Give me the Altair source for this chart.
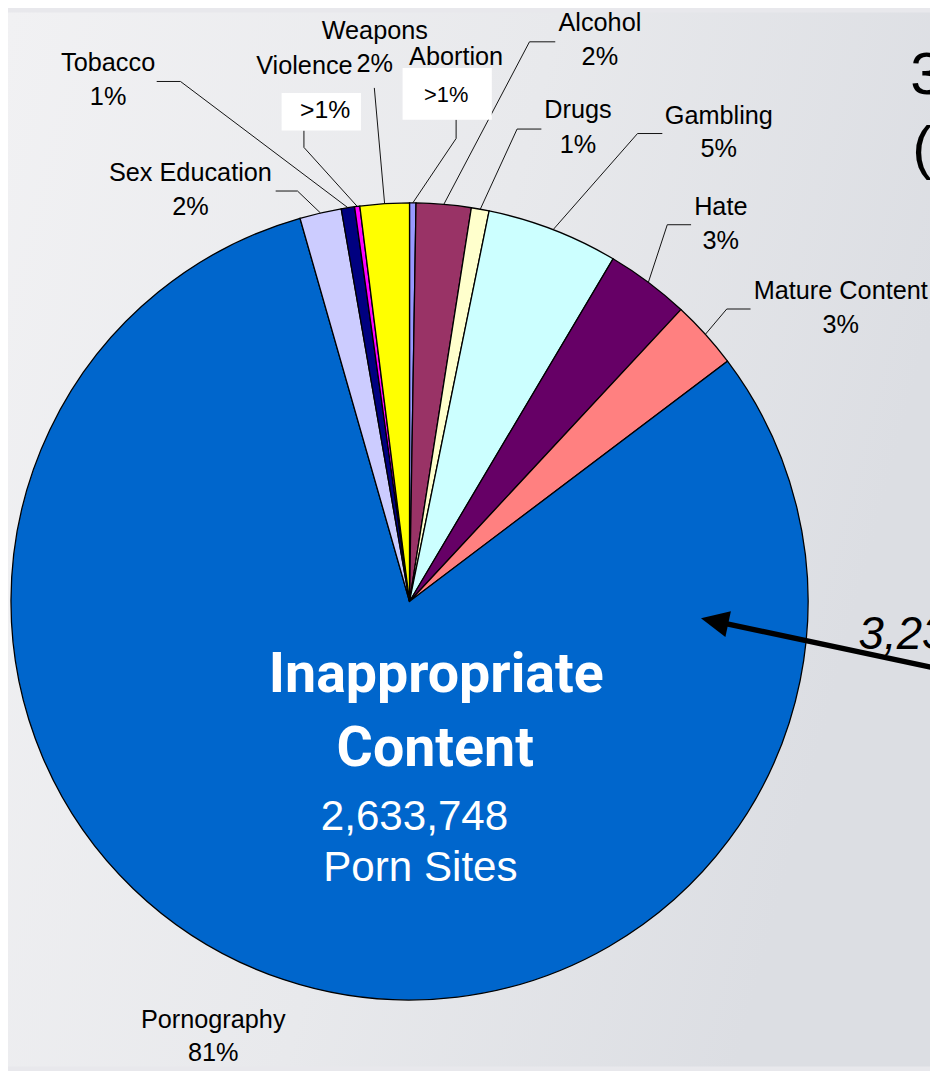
import math
import altair as alt
import pandas as pd

# ---------------- data ----------------
categories = ["Abortion", "Alcohol", "Drugs", "Gambling", "Hate", "Mature Content",
              "Pornography", "Sex Education", "Tobacco", "Violence", "Weapons"]
shares = [0.26, 2.22, 0.72, 5.33, 3.39, 2.78, 80.86, 1.69, 0.54, 0.21, 1.99]
pct_labels = [">1%", "2%", "1%", "5%", "3%", "3%", "81%", "2%", "1%", ">1%", "2%"]
colors = ["#9999FF", "#993366", "#FFFFCC", "#CCFFFF", "#660066", "#FF8080",
          "#0066CC", "#CCCCFF", "#000080", "#FF00FF", "#FFFF00"]

center_title = ["Inappropriate", "Content"]
center_sub = ["2,633,748", "Porn Sites"]
side_texts = ["3", "(", "3,23"]

# ---------------- layout (page pixels) ----------------
W, H = 930, 1063
OFF = 8
CX, CY, R = 413 - OFF, 602 - OFF, 402

# name label centre (x, y), percent line y (None -> boxed/hidden)
label_pos = {
    "Tobacco": (109, 59, 93),
    "Sex Education": (192, 170, 204),
    "Violence": (307, 62, None),
    "Weapons": (378, 27, 60),
    "Abortion": (460, 53, None),
    "Alcohol": (605, 19, 53),
    "Drugs": (583, 106, 142),
    "Gambling": (725, 112, 146),
    "Hate": (727, 204, 238),
    "Mature Content": (848, 289, 323),
    "Pornography": (215, 1024, 1058),
}
# leader line: start point and elbow point (page px)
leader_pts = {
    "Tobacco": ((158, 77.5), (182, 77.5)),
    "Sex Education": ((278, 188), (300, 188)),
    "Violence": ((306.5, 127), (306.5, 144)),
    "Weapons": ((377.5, 84), (377.5, 84)),
    "Abortion": ((460, 116), (460, 135)),
    "Alcohol": ((560, 37.5), (534, 37.5)),
    "Drugs": ((546, 125.5), (521.5, 125.5)),
    "Gambling": ((668, 130), (643, 130)),
    "Hate": ((697, 222), (673, 222)),
    "Mature Content": ((757, 307), (733, 307)),
}
# white boxes with ">1%" text
boxes = {
    "Violence": ((284, 89, 364, 127), (328, 106), 25),
    "Abortion": ((406, 64, 496, 116), (450, 91.5), 22),
}

FONT = "Liberation Sans, Arial, sans-serif"
BOLDFONT = "Roboto, Liberation Sans, sans-serif"

xs = alt.Scale(domain=[0, W], range=[0, W], nice=False, zero=False)
ys = alt.Scale(domain=[0, H], range=[0, H], nice=False, zero=False)


def X(f="x"):
    return alt.X(f + ":Q", scale=xs, axis=None)


def Y(f="y"):
    return alt.Y(f + ":Q", scale=ys, axis=None)


# ---------------- background ----------------
bg = alt.Chart(pd.DataFrame({"a": [0]})).mark_rect(
    color=alt.LinearGradient(
        gradient="linear",
        stops=[alt.GradientStop(color="#f1f1f3", offset=0),
               alt.GradientStop(color="#e8e9ec", offset=0.55),
               alt.GradientStop(color="#dcdee3", offset=1)],
        x1=0, x2=1, y1=0, y2=0.3)
).encode(x=alt.value(0), x2=alt.value(W), y=alt.value(0), y2=alt.value(H))

# ---------------- pie ----------------
pie_df = pd.DataFrame({"category": categories, "share": shares,
                       "idx": list(range(len(categories)))})
pie = alt.Chart(pie_df).mark_arc(outerRadius=R, stroke="black", strokeWidth=1.3).encode(
    theta=alt.Theta("share:Q", stack=True, scale=alt.Scale(range=[0, 2 * math.pi])),
    color=alt.Color("category:N", scale=alt.Scale(domain=categories, range=colors), legend=None),
    order=alt.Order("idx:Q"),
    x=alt.value(CX), y=alt.value(CY),
)

# ---------------- leader lines (end at slice mid-angle on the rim) ----------------
total = sum(shares)
cum = 0.0
mid_angle = {}
for c, s in zip(categories, shares):
    mid_angle[c] = 2 * math.pi * (cum + s / 2) / total
    cum += s

segs = []
for c, (p0, p1) in leader_pts.items():
    a = mid_angle[c]
    ex, ey = CX + R * math.sin(a), CY - R * math.cos(a)
    x0, y0 = p0[0] - OFF, p0[1] - OFF
    x1, y1 = p1[0] - OFF, p1[1] - OFF
    if (x0, y0) != (x1, y1):
        segs.append({"x": x0, "y": y0, "x2": x1, "y2": y1})
    segs.append({"x": x1, "y": y1, "x2": ex, "y2": ey})
leaders = alt.Chart(pd.DataFrame(segs)).mark_rule(color="#111111", strokeWidth=1).encode(
    x=X(), y=Y(), x2="x2:Q", y2="y2:Q")

# ---------------- labels ----------------
rows = []
for c, p in zip(categories, pct_labels):
    lx, ly, py = label_pos[c]
    rows.append({"x": lx - OFF, "y": ly - OFF, "t": c})
    if py is not None:
        rows.append({"x": lx - OFF, "y": py - OFF, "t": p})
labels = alt.Chart(pd.DataFrame(rows)).mark_text(
    font=FONT, fontSize=25.5, color="black", align="center", baseline="middle"
).encode(x=X(), y=Y(), text="t:N")

box_rows = []
box_text = []
for c, ((bx0, by0, bx1, by1), (tx, ty), fs) in boxes.items():
    box_rows.append({"x": bx0 - OFF, "y": by0 - OFF, "x2": bx1 - OFF, "y2": by1 - OFF})
    box_text.append({"x": tx - OFF, "y": ty - OFF, "t": pct_labels[categories.index(c)], "fs": fs})
wboxes = alt.Chart(pd.DataFrame(box_rows)).mark_rect(color="white").encode(
    x=X(), y=Y(), x2="x2:Q", y2="y2:Q")
wtext = alt.Chart(pd.DataFrame(box_text)).mark_text(
    font=FONT, color="black", align="center", baseline="middle"
).encode(x=X(), y=Y(), text="t:N", size=alt.Size("fs:Q", scale=None, legend=None))

# ---------------- centre annotation ----------------
ct_df = pd.DataFrame({"x": [440 - OFF, 439 - OFF], "y": [693 - OFF, 768 - OFF], "t": center_title})
ctitle = alt.Chart(ct_df).mark_text(
    font=BOLDFONT, fontWeight="bold", fontSize=56, color="white",
    align="center", baseline="alphabetic"
).encode(x=X(), y=Y(), text="t:N")
cs_df = pd.DataFrame({"x": [418 - OFF, 424 - OFF], "y": [833 - OFF, 884 - OFF], "t": center_sub})
csub = alt.Chart(cs_df).mark_text(
    font=FONT, fontSize=42.5, color="white", align="center", baseline="alphabetic"
).encode(x=X(), y=Y(), text="t:N")

# ---------------- clipped slide text on the right ----------------
side_df = pd.DataFrame({"x": [918 - OFF, 920 - OFF], "y": [90 - OFF, 165 - OFF], "t": side_texts[:2]})
side = alt.Chart(side_df).mark_text(
    font=FONT, fontSize=60, color="black", align="left", baseline="alphabetic"
).encode(x=X(), y=Y(), text="t:N")
side2 = alt.Chart(pd.DataFrame({"x": [866 - OFF], "y": [650 - OFF], "t": [side_texts[2]]})).mark_text(
    font=FONT, fontSize=46, fontStyle="italic", color="black", align="left", baseline="alphabetic"
).encode(x=X(), y=Y(), text="t:N")

# ---------------- arrow ----------------
tip = (699.0, 611.0)
ang = math.radians(12)
head_c = (tip[0] + 14 * math.cos(ang), tip[1] + 14 * math.sin(ang))
shaft_start = (tip[0] + 22 * math.cos(ang), tip[1] + 22 * math.sin(ang))
shaft_end = (tip[0] + 260 * math.cos(ang), tip[1] + 260 * math.sin(ang))
shaft = alt.Chart(pd.DataFrame([{"x": shaft_start[0], "y": shaft_start[1],
                                 "x2": shaft_end[0], "y2": shaft_end[1]}])).mark_rule(
    color="black", strokeWidth=5.5).encode(x=X(), y=Y(), x2="x2:Q", y2="y2:Q")
head = alt.Chart(pd.DataFrame([{"x": head_c[0], "y": head_c[1]}])).mark_point(
    shape="M-1,0L1,-0.95L1,0.95Z", size=784, filled=True, color="black", opacity=1, angle=12
).encode(x=X(), y=Y())

chart = alt.layer(
    bg, pie, leaders, labels, wboxes, wtext, ctitle, csub, side, side2, shaft, head
).properties(
    width=W, height=H, autosize=alt.AutoSizeParams(type="none"), padding=0,
    background="#e8e8ec"
).configure_view(stroke=None)

chart.save("out.html", embed_options={"renderer": "svg", "actions": False})
